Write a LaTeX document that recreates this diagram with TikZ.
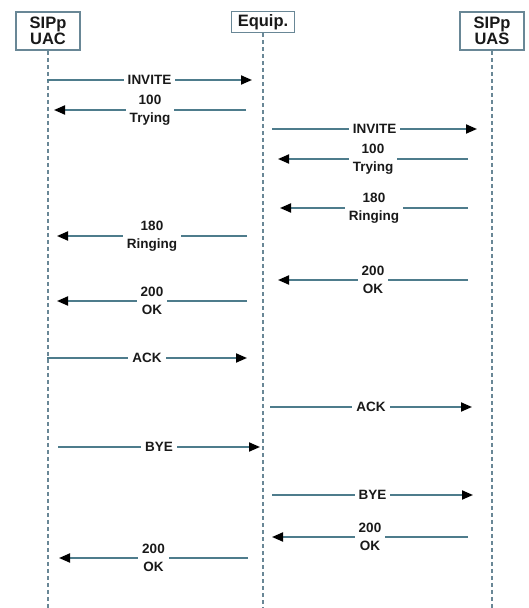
\documentclass[tikz,border=0pt]{standalone}
\usepackage{fontspec}
\setmainfont{Liberation Sans}
\usetikzlibrary{arrows.meta}
\definecolor{wire}{RGB}{78, 124, 140}
\definecolor{frame}{RGB}{105, 135, 150}
\definecolor{ink}{RGB}{25, 25, 25}

\begin{document}
\begin{tikzpicture}[x=1pt, y=-1pt,
        entity/.style={draw=frame, line width=1.6pt, fill=white, align=center,
                       font=\fontsize{16.5}{16}\selectfont\bfseries, text=ink, inner sep=2pt},
        lifeline/.style={draw=frame, line width=1.4pt, dash pattern=on 4pt off 3pt},
        msg/.style={draw=wire, line width=1.9pt,
                    -{Triangle[length=11pt, width=9pt, color=black]}},
        msglabel/.style={fill=white, align=center, inner xsep=4pt, inner ysep=0.5pt,
                         font=\fontsize{13.5}{17.5}\selectfont\bfseries, text=ink}]

        \useasboundingbox (0,0) rectangle (529,608);
        \coordinate (bottom) at (0,608);

        % the three parties of the call, each with its dashed lifeline
        \node[entity, minimum width=64pt, minimum height=38pt] (uac) at (48,31) {SIPp\\UAC};
        \node[entity, minimum width=63pt, minimum height=21pt] (equip) at (263,22) {Equip.};
        \node[entity, minimum width=64pt, minimum height=38pt] (uas) at (492,31) {SIPp\\UAS};

        \foreach \party in {uac, equip, uas} {
            \draw[lifeline] (\party.south) -- (\party.south |- bottom);
        }

        % the messages: height / start / end / label
        % each one gets a (from\i) and (to\i) coordinate and a (label\i) node
        \foreach \ya / \xa / \xb / \txt [count=\i] in {
                        80/47/252/INVITE, 110/246/54/{100\\Trying},
                        129/272/477/INVITE, 159/468/278/{100\\Trying},
                        208/468/280/{180\\Ringing}, 236/247/57/{180\\Ringing},
                        280/468/278/{200\\OK}, 301/247/57/{200\\OK},
                        358/47/247/ACK, 407/270/472/ACK,
                        447/58/260/BYE, 495/272/473/BYE,
                        537/468/272/{200\\OK}, 558/248/59/{200\\OK}} {
            \coordinate (from\i) at (\xa,\ya);
            \coordinate (to\i) at (\xb,\ya);
            \draw[msg] (from\i) -- node[msglabel] (label\i) {\txt} (to\i);
        }
    \end{tikzpicture}
\end{document}
